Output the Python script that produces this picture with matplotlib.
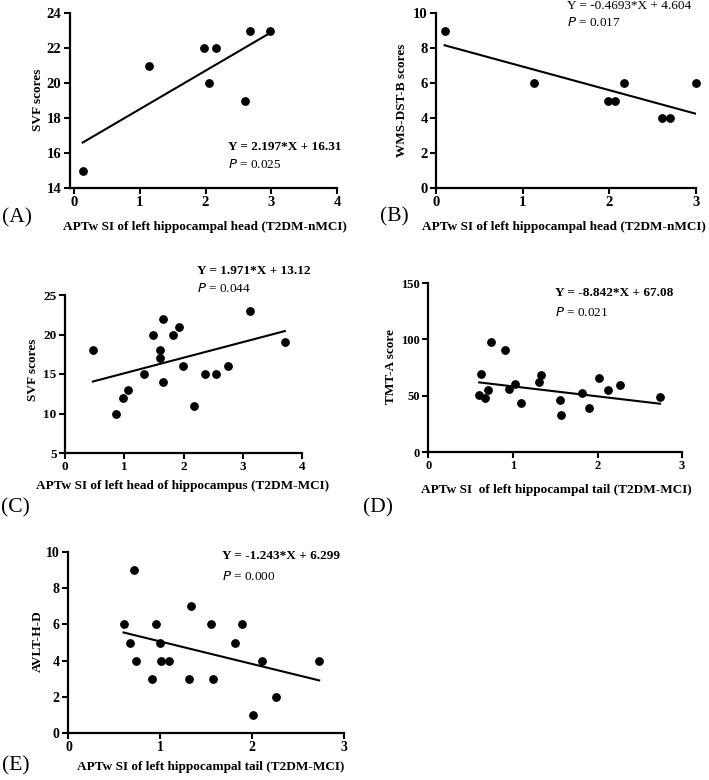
import numpy as np
import matplotlib
matplotlib.use("Agg")
import matplotlib.pyplot as plt

plt.rcParams['font.family'] = ['Liberation Serif', 'DejaVu Serif']

W, H = 709, 780

# ---------------- data ----------------
a_x = [0.13, 1.14, 1.98, 2.16, 2.05, 2.60, 2.68, 2.98]
a_y = [15, 21, 22, 22, 20, 19, 23, 23]
a_fit = (2.197, 16.31)

b_x = [0.10, 1.13, 1.98, 2.07, 2.17, 2.61, 2.70, 3.00]
b_y = [9, 6, 5, 5, 6, 4, 4, 6]
b_fit = (-1.35, 8.29)

c_x = [0.47, 0.86, 0.98, 1.06, 1.34, 1.49, 1.65, 1.61, 1.61, 1.66,
       1.83, 1.92, 1.99, 2.18, 2.37, 2.55, 2.75, 3.12, 3.71]
c_y = [18, 10, 12, 13, 15, 20, 22, 18, 17, 14,
       20, 21, 16, 11, 15, 15, 16, 23, 19]
c_fit = (1.971, 13.12)

d_x = [0.62, 0.60, 0.67, 0.70, 0.74, 0.91, 0.95, 1.02, 1.10, 1.31,
       1.33, 1.56, 1.57, 1.82, 1.90, 2.02, 2.12, 2.27, 2.74]
d_y = [69.5, 50.3, 48.2, 55.4, 97.6, 90.4, 56.3, 60.2, 43.4, 62.3,
       68.6, 46.4, 33.2, 52.4, 39.2, 65.3, 55.4, 59.9, 48.5]
d_fit = (-8.842, 67.08)

e_x = [0.60, 0.67, 0.71, 0.73, 0.91, 0.95, 1.00, 1.01, 1.10, 1.31,
       1.33, 1.55, 1.57, 1.81, 1.89, 2.01, 2.11, 2.26, 2.73]
e_y = [6, 5, 9, 4, 3, 6, 5, 4, 4, 3,
       7, 6, 3, 5, 6, 1, 4, 2, 4]
e_fit = (-1.243, 6.299)

panel_letters = ['(A)', '(B)', '(C)', '(D)', '(E)']
y_labels = ['SVF scores', 'WMS-DST-B scores', 'SVF scores', 'TMT-A score', 'AVLT-H-D']
x_labels = ['APTw SI of left hippocampal head (T2DM-nMCI)',
            'APTw SI of left hippocampal head (T2DM-nMCI)',
            'APTw SI of left head of hippocampus (T2DM-MCI)',
            'APTw SI  of left hippocampal tail (T2DM-MCI)',
            'APTw SI of left hippocampal tail (T2DM-MCI)']
eq_texts = ['Y = 2.197*X + 16.31', 'Y = -0.4693*X + 4.604', 'Y = 1.971*X + 13.12',
            'Y = -8.842*X + 67.08', 'Y = -1.243*X + 6.299']
p_values = ['0.025', '0.017', '0.044', '0.021', '0.000']
eq_bold = [True, False, True, True, True]
x_ticks = [[0, 1, 2, 3, 4], [0, 1, 2, 3], [0, 1, 2, 3, 4], [0, 1, 2, 3], [0, 1, 2, 3]]
y_ticks = [[14, 16, 18, 20, 22, 24], [0, 2, 4, 6, 8, 10], [5, 10, 15, 20, 25],
           [0, 50, 100, 150], [0, 2, 4, 6, 8, 10]]

xs = [a_x, b_x, c_x, d_x, e_x]
ys = [a_y, b_y, c_y, d_y, e_y]
fits = [a_fit, b_fit, c_fit, d_fit, e_fit]

# ---------------- layout (pixels) ----------------
boxes = [(69.5, 337, 13, 188), (436, 696, 13, 188), (65, 302, 295, 453),
         (428.5, 682, 283, 452), (68, 344, 552, 733)]
xlims = [(-0.07, 4), (0, 3), (0, 4), (0, 3), (-0.005, 3)]
tick_sizes = [10.5, 10.5, 9.5, 9, 10]
ylab_pos = [(38, 100), (402, 100), (33, 370), (391, 367), (38, 641)]
xlab_pos = [(205, 227), (564, 227), (183, 486), (556, 490), (211, 767)]
letter_pos = [(2, 218), (380, 217), (1, 508), (363, 508), (2, 766)]
eq_pos = [(228, 147), (567, 6), (197, 271), (555, 293), (222, 556)]
p_pos = [(228, 165), (567, 22), (197, 288), (555, 312), (222, 577)]

fig = plt.figure(figsize=(W / 100, H / 100), dpi=100)


def fx(x):
    return x / W


def fy(y):
    return 1 - y / H


for i in range(5):
    l, r, t, b = boxes[i]
    ax = fig.add_axes([fx(l), fy(b), (r - l) / W, (b - t) / H])
    ax.scatter(xs[i], ys[i], s=28, color='black', zorder=3, clip_on=False)
    xx = np.array([min(xs[i]), max(xs[i])])
    ax.plot(xx, fits[i][0] * xx + fits[i][1], color='black', lw=1.5)
    ax.set_xlim(*xlims[i])
    ax.set_ylim(y_ticks[i][0], y_ticks[i][-1])
    ax.set_xticks(x_ticks[i])
    ax.set_yticks(y_ticks[i])
    for s in ['top', 'right']:
        ax.spines[s].set_visible(False)
    for s in ['left', 'bottom']:
        ax.spines[s].set_linewidth(1.6)
    ax.tick_params(direction='out', length=4, width=1.5, labelsize=tick_sizes[i], pad=2)
    for lab in ax.get_xticklabels() + ax.get_yticklabels():
        lab.set_fontweight('bold')
    ax.patch.set_alpha(0)

    fig.text(fx(ylab_pos[i][0]), fy(ylab_pos[i][1]), y_labels[i], rotation=90,
             ha='center', va='center', fontsize=9.5, fontweight='bold')
    fig.text(fx(xlab_pos[i][0]), fy(xlab_pos[i][1]), x_labels[i],
             ha='center', va='center', fontsize=9.5, fontweight='bold')
    fig.text(fx(letter_pos[i][0]), fy(letter_pos[i][1]), panel_letters[i],
             ha='left', va='center', fontsize=15.5)
    fig.text(fx(eq_pos[i][0]), fy(eq_pos[i][1]), eq_texts[i],
             ha='left', va='center', fontsize=9.5,
             fontweight='bold' if eq_bold[i] else 'normal')
    fig.text(fx(p_pos[i][0]), fy(p_pos[i][1]), r'$\it{P}$ = ' + p_values[i],
             ha='left', va='center', fontsize=9.5)

fig.savefig('out.png', dpi=100)
